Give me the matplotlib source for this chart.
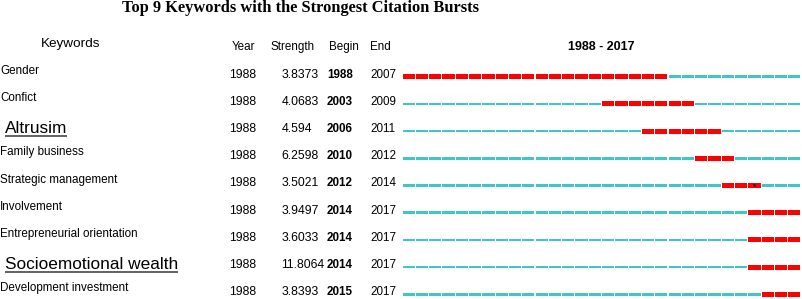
import matplotlib.pyplot as plt

# data
keywords = ["Gender", "Confict", "Altrusim", "Family business", "Strategic management",
            "Involvement", "Entrepreneurial orientation", "Socioemotional wealth",
            "Development investment"]
highlight = ["Altrusim", "Socioemotional wealth"]
years = [1988] * 9
strengths = [3.8373, 4.0683, 4.594, 6.2598, 3.5021, 3.9497, 3.6033, 11.8064, 3.8393]
begins = [1988, 2003, 2006, 2010, 2012, 2014, 2014, 2014, 2015]
ends = [2007, 2009, 2011, 2012, 2014, 2017, 2017, 2017, 2017]
start_year, end_year = 1988, 2017

W, H = 803, 299
red = "#ff0000"
cyan = "#3fc6c6"
sans = "Liberation Sans"
fs = 8.4

fig = plt.figure(figsize=(W / 100, H / 100), dpi=100)

# text layer in pixel coordinates
tx = fig.add_axes([0, 0, 1, 1])
tx.set_xlim(0, W)
tx.set_ylim(H, 0)
tx.axis("off")

row0, dy = 76.7, 27.2

tx.text(301, 12.5, "Top 9 Keywords with the Strongest Citation Bursts", family="Liberation Serif",
        weight="bold", fontsize=11.8, ha="center", va="baseline")
tx.text(41, 47.5, "Keywords", family=sans, fontsize=9.7, va="baseline")
tx.text(232, 50, "Year", family=sans, fontsize=fs, va="baseline")
tx.text(271, 50, "Strength", family=sans, fontsize=fs, va="baseline")
tx.text(329, 50, "Begin", family=sans, fontsize=fs, va="baseline")
tx.text(370, 50, "End", family=sans, fontsize=fs, va="baseline")
tx.text(601, 49.5, "%d - %d" % (start_year, end_year), family=sans, weight="bold",
        fontsize=9.0, ha="center", va="baseline")

for i, kw in enumerate(keywords):
    yb = row0 + i * dy
    yn = yb + 1
    if kw in highlight:
        t = tx.text(5, yb + 2, kw, family=sans, fontsize=12.4, va="baseline")
        fig.canvas.draw()
        bb = t.get_window_extent()
        tx.plot([5, 5 + bb.width], [yb + 5, yb + 5], color="#555555", lw=1.3,
                solid_capstyle="butt")
    else:
        tx.text(0, yb - 3, kw, family=sans, fontsize=fs, va="baseline")
    tx.text(229, yn, str(years[i]), family=sans, fontsize=8.8, va="baseline")
    tx.text(281.5, yn, str(strengths[i]), family=sans, fontsize=8.8, va="baseline")
    tx.text(327, yn, str(begins[i]), family=sans, fontsize=fs, weight="bold", va="baseline")
    tx.text(370, yn, str(ends[i]), family=sans, fontsize=fs, va="baseline")

# burst strip: years on x, row index on y
x0, x1 = 402, 801
ybot = (H - row0) / dy
top_px = row0 - 0.5 * dy
bx = fig.add_axes([x0 / W, 0, (x1 - x0) / W, (H - top_px) / H])
bx.set_xlim(start_year, end_year + 1)
bx.set_ylim(ybot, -0.5)
bx.axis("off")

for i in range(len(keywords)):
    for yr in range(start_year, end_year + 1):
        burst = begins[i] <= yr <= ends[i]
        h = 0.19 if burst else 0.1
        bx.broken_barh([(yr + 0.04, 0.92)], (i - h / 2, h),
                       facecolors=red if burst else cyan, edgecolor="none")

# small dark speck on the strategic management burst
bx.plot([2014.45], [4], marker="o", ms=1.8, color="black", mec="none")

fig.savefig("out.png", dpi=100)
